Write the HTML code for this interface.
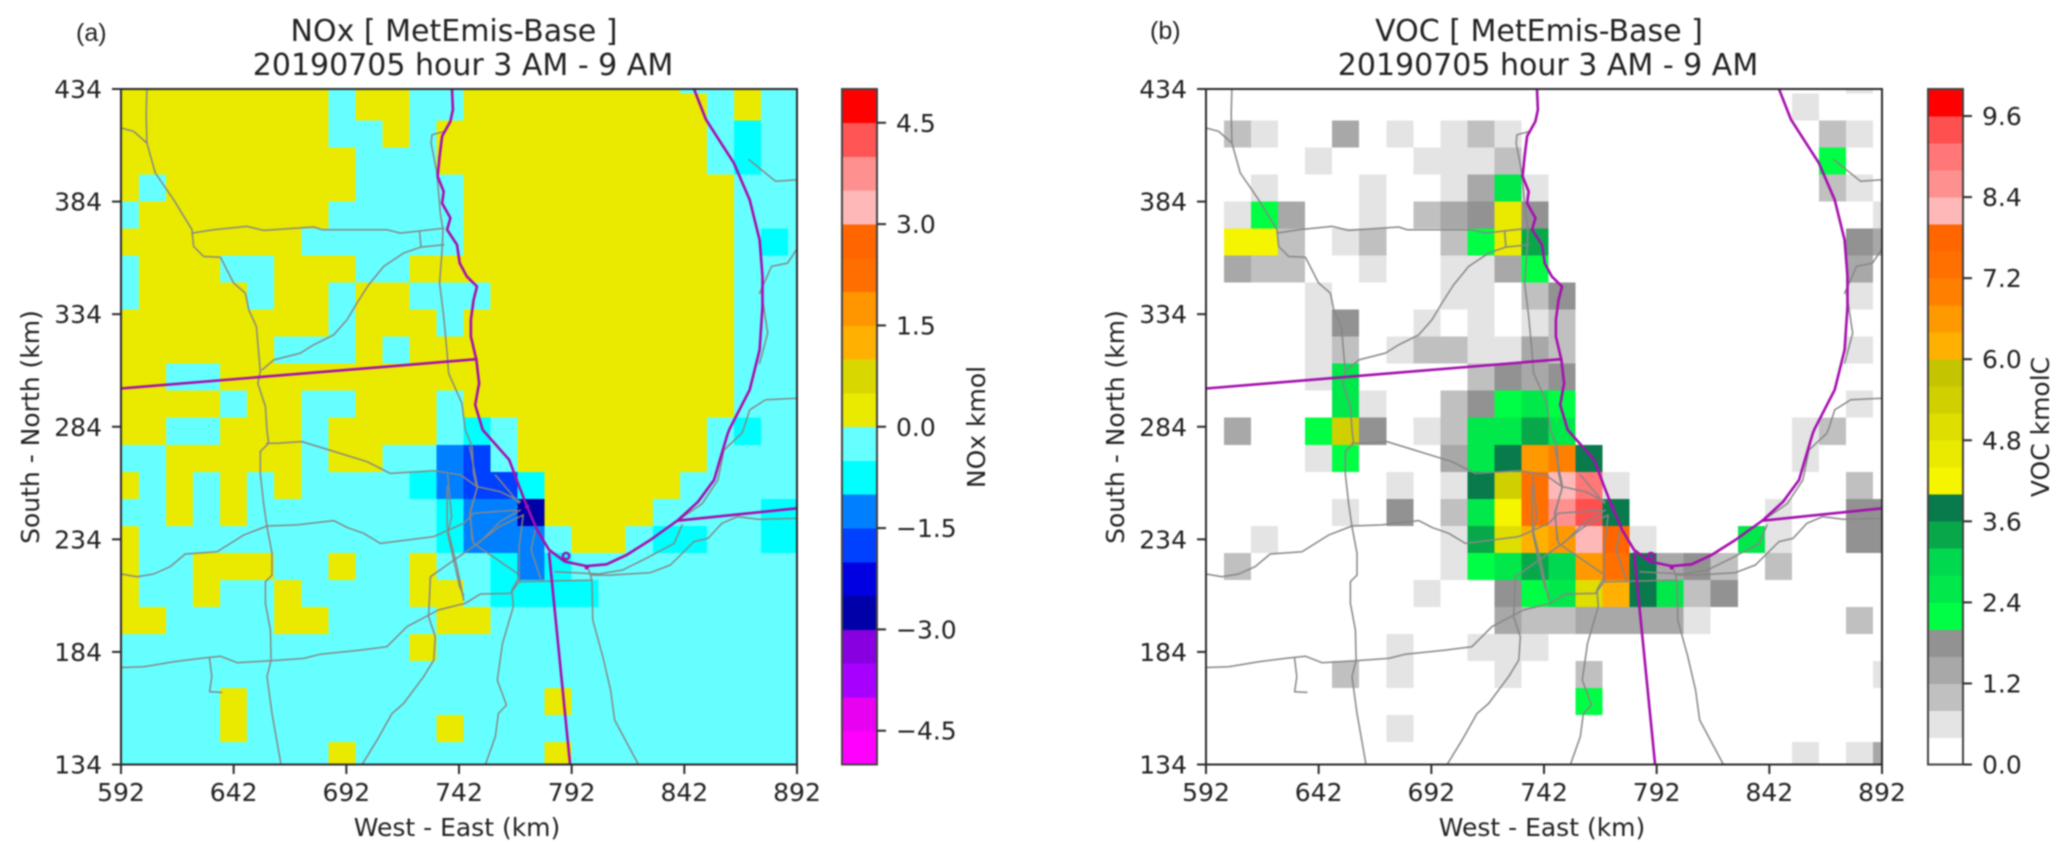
<!DOCTYPE html>
<html lang="en">
<head>
<meta charset="utf-8">
<title>NOx and VOC MetEmis-Base</title>
<style>
html,body{margin:0;padding:0;background:#fff;width:2067px;height:860px;overflow:hidden}
svg{display:block;filter:blur(.8px)}
text{font-family:"DejaVu Sans","Liberation Sans",sans-serif;fill:#222}
.tick{font-size:25px}
.lab{font-size:25px}
.ttl{font-size:30px;text-anchor:middle}
.pl{font-family:"Liberation Sans",sans-serif;font-size:25px}
</style>
</head>
<body>
<svg id="fig" xmlns="http://www.w3.org/2000/svg" width="2067" height="860" viewBox="0 0 2067 860">
<defs>
<clipPath id="clip-a"><rect x="121" y="89" width="676" height="675.5"/></clipPath>
<clipPath id="clip-b"><rect x="1206" y="89" width="676" height="675.5"/></clipPath>
</defs>
<g id="panel-a"></g>
<g id="panel-b"></g>
<text class="pl" x="76" y="41">(a)</text>
<text class="ttl" x="454" y="41">NOx [ MetEmis-Base ]</text>
<text class="ttl" x="463" y="75">20190705 hour 3 AM - 9 AM</text>
<text class="lab" x="457" y="836" text-anchor="middle">West - East (km)</text>
<text class="lab" transform="translate(39,427) rotate(-90)" text-anchor="middle">South - North (km)</text>
<text class="lab" transform="translate(985,427) rotate(-90)" text-anchor="middle">NOx kmol</text>
<text class="pl" x="1150" y="39">(b)</text>
<text class="ttl" x="1539" y="41">VOC [ MetEmis-Base ]</text>
<text class="ttl" x="1548" y="75">20190705 hour 3 AM - 9 AM</text>
<text class="lab" x="1542" y="836" text-anchor="middle">West - East (km)</text>
<text class="lab" transform="translate(1124,427) rotate(-90)" text-anchor="middle">South - North (km)</text>
<text class="lab" transform="translate(2049,427) rotate(-90)" text-anchor="middle">VOC kmolC</text>
</svg>
<script>
const xTicks = [592, 642, 692, 742, 792, 842, 892];
const yTicks = [134, 184, 234, 284, 334, 384, 434];
const noxBarTicks = [-4.5, -3.0, -1.5, 0.0, 1.5, 3.0, 4.5];
const vocBarTicks = [0.0, 1.2, 2.4, 3.6, 4.8, 6.0, 7.2, 8.4, 9.6];
const noxLevels = [-5,-4.5,-4,-3.5,-3,-2.5,-2,-1.5,-1,-.5,0,.5,1,1.5,2,2.5,3,3.5,4,4.5,5];
const noxColors = ['#ff00ff','#e800f0','#a800ff','#8800e0','#0000a8','#0000e0','#0040ff','#0080ff','#00ffff','#66ffff','#eaea00','#d8d800','#ffb000','#ff9600','#ff6e00','#ff6600','#ffb8b8','#ff9090','#ff5555','#ff0000'];
const vocLevels = [0,.4,.8,1.2,1.6,2,2.4,2.8,3.2,3.6,4,4.4,4.8,5.2,5.6,6,6.4,6.8,7.2,7.6,8,8.4,8.8,9.2,9.6,10];
const vocColors = ['#ffffff','#e4e4e4','#c0c0c0','#a8a8a8','#929292','#00ff44','#00e84a','#00d94f','#08a84a','#087a4c','#f5f500','#eaea00','#dede00','#d0d000','#c4c400','#ffb000','#ff9900','#ff8000','#ff7000','#ff6600','#ffb8b8','#ff9090','#ff7777','#ff5050','#ff0000'];

/* Grid cell edges in km: columns start at 588, rows start at 444 at the top, 12 km each */
const cellKm = 12;
const gridWest = 588;
const gridNorth = 444;

const noxRows = [
[.25,.25,.25,.25,.25,.25,.25,.25,-.25,.25,.25,-.25,-.25,.25,.25,.25,.25,.25,.25,.25,.25,-.25,-.25,.25,-.25,-.25],
[.25,.25,.25,.25,.25,.25,.25,.25,-.25,.25,.25,-.25,-.25,.25,.25,.25,.25,.25,.25,.25,.25,.25,-.25,.25,-.25,-.25],
[.25,.25,.25,.25,.25,.25,.25,.25,-.25,-.25,.25,-.25,.25,.25,.25,.25,.25,.25,.25,.25,.25,.25,-.25,-.75,-.25,-.25],
[.25,.25,.25,.25,.25,.25,.25,.25,.25,-.25,-.25,-.25,.25,.25,.25,.25,.25,.25,.25,.25,.25,.25,-.25,-.75,-.25,-.25],
[.25,-.25,.25,.25,.25,.25,.25,.25,.25,-.25,-.25,-.25,-.25,.25,.25,.25,.25,.25,.25,.25,.25,.25,.25,-.25,-.25,-.25],
[-.25,.25,.25,.25,.25,.25,.25,.25,-.25,-.25,-.25,-.25,-.25,.25,.25,.25,.25,.25,.25,.25,.25,.25,.25,-.25,-.25,-.25],
[.25,.25,.25,.25,.25,.25,.25,-.25,-.25,-.25,-.25,-.25,-.25,.25,.25,.25,.25,.25,.25,.25,.25,.25,.25,-.25,-.75,-.25],
[-.25,.25,.25,.25,-.25,-.25,.25,.25,.25,-.25,-.25,.25,.25,.25,.25,.25,.25,.25,.25,.25,.25,.25,.25,-.25,-.25,-.25],
[-.25,.25,.25,.25,.25,-.25,.25,.25,-.25,.25,.25,-.25,-.25,-.25,.25,.25,.25,.25,.25,.25,.25,.25,.25,-.25,-.25,-.25],
[.25,.25,.25,.25,.25,.25,.25,.25,-.25,.25,.25,.25,-.25,.25,.25,.25,.25,.25,.25,.25,.25,.25,.25,-.25,-.25,-.25],
[.25,.25,.25,.25,.25,.25,-.25,-.25,-.25,.25,-.25,.25,.25,.25,.25,.25,.25,.25,.25,.25,.25,.25,.25,-.25,-.25,-.25],
[.25,.25,-.25,-.25,.25,.25,.25,.25,.25,.25,.25,.25,.25,.25,.25,.25,.25,.25,.25,.25,.25,.25,.25,-.25,-.25,-.25],
[.25,.25,.25,.25,-.25,.25,.25,-.25,-.25,.25,.25,.25,-.25,.25,.25,.25,.25,.25,.25,.25,.25,.25,.25,-.25,-.25,-.25],
[.25,.25,-.25,-.25,.25,.25,.25,-.25,.25,.25,.25,.25,-.25,-.75,-.25,.25,.25,.25,.25,.25,.25,.25,-.25,-.75,-.25,-.25],
[-.25,-.25,.25,.25,.25,.25,.25,-.25,.25,.25,-.25,-.25,-1.25,-1.75,-.25,.25,.25,.25,.25,.25,.25,.25,-.25,-.25,-.25,-.25],
[.25,-.25,.25,-.25,.25,-.25,.25,-.25,-.25,-.25,-.25,-.75,-1.25,-1.75,-1.75,-.75,.25,.25,.25,.25,.25,-.25,-.25,-.25,-.25,-.25],
[-.25,-.25,.25,-.25,.25,-.25,-.25,-.25,-.25,-.25,-.25,-.25,-.75,-1.25,-1.25,-2.75,.25,.25,.25,.25,-.25,-.25,-.25,-.25,-.75,-.75],
[.25,-.25,-.25,-.25,-.25,-.25,-.25,-.25,-.25,-.25,-.25,-.25,-.75,-1.25,-1.25,-1.25,-.25,.25,.25,-.25,-.75,-.75,-.25,-.25,-.75,-.75],
[.25,-.25,-.25,.25,.25,.25,-.25,-.25,.25,-.25,-.25,.25,-.25,-.25,-.75,-1.25,-.75,-.25,-.25,-.25,-.25,-.25,-.25,-.25,-.25,-.25],
[.25,-.25,-.25,.25,-.25,-.25,.25,-.25,-.25,-.25,-.25,.25,.25,-.25,-.75,-.75,-.75,-.75,-.25,-.25,-.25,-.25,-.25,-.25,-.25,-.25],
[.25,.25,-.25,-.25,-.25,-.25,.25,.25,-.25,-.25,-.25,-.25,.25,.25,-.25,-.25,-.25,-.25,-.25,-.25,-.25,-.25,-.25,-.25,-.25,-.25],
[-.25,-.25,-.25,-.25,-.25,-.25,-.25,-.25,-.25,-.25,-.25,.25,-.25,-.25,-.25,-.25,-.25,-.25,-.25,-.25,-.25,-.25,-.25,-.25,-.25,-.25],
[-.25,-.25,-.25,-.25,-.25,-.25,-.25,-.25,-.25,-.25,-.25,-.25,-.25,-.25,-.25,-.25,-.25,-.25,-.25,-.25,-.25,-.25,-.25,-.25,-.25,-.25],
[-.25,-.25,-.25,-.25,.25,-.25,-.25,-.25,-.25,-.25,-.25,-.25,-.25,-.25,-.25,-.25,.25,-.25,-.25,-.25,-.25,-.25,-.25,-.25,-.25,-.25],
[-.25,-.25,-.25,-.25,.25,-.25,-.25,-.25,-.25,-.25,-.25,-.25,.25,-.25,-.25,-.25,-.25,-.25,-.25,-.25,-.25,-.25,-.25,-.25,-.25,-.25],
[-.25,-.25,-.25,-.25,-.25,-.25,-.25,-.25,.25,-.25,-.25,-.25,-.25,-.25,-.25,-.25,.25,-.25,-.25,-.25,-.25,-.25,-.25,-.25,-.25,-.25]
];

const vocRows = [
[.2,.2,.2,.2,.2,.2,.2,.2,.2,.2,.2,.2,.2,.2,.2,.2,.2,.2,.2,.2,.2,.2,.2,.2,.6,.2],
[.2,.2,.2,.2,.2,.2,.2,.2,.2,.2,.2,.2,.2,.2,.2,.2,.2,.2,.2,.2,.2,.2,.6,.2,.2,.2],
[.2,1,.6,.2,.2,1.4,.2,.6,.2,.6,1,.6,.2,.2,.2,.2,.2,.2,.2,.2,.2,.2,.2,1,.6,.2],
[.2,.2,.2,.2,.6,.2,.2,.2,.6,.6,.6,1,.2,.2,.2,.2,.2,.2,.2,.2,.2,.2,.2,2.2,.2,.2],
[.2,.2,.6,.2,.2,.2,.6,.2,.2,.6,1.4,2.6,.6,.2,.2,.2,.2,.2,.2,.2,.2,.2,.2,1,.6,.2],
[.2,.6,2.2,1.4,.2,.2,.6,.2,1,1.4,1.8,4.6,1.8,.2,.2,.2,.2,.2,.2,.2,.2,.2,.2,.2,.2,.6],
[.2,4.2,4.2,1,.2,.6,1,.2,.2,1,2.2,4.6,3.4,.2,.2,.2,.2,.2,.2,.2,.2,.2,.2,.2,1.8,1.4],
[.2,1.4,1,1,.2,.2,.6,.2,.2,.6,.6,1.4,2.2,.2,.2,.2,.2,.2,.2,.2,.2,.2,.2,.2,1.4,.2],
[.2,.2,.2,.2,.6,.2,.2,.2,.2,.6,.6,.2,1,1.8,.2,.2,.2,.2,.2,.2,.2,.2,.2,.2,.6,.2],
[.2,.2,.2,.2,.6,1.8,.2,.2,.6,.2,.6,.2,.6,1,.2,.2,.2,.2,.2,.2,.2,.2,.2,.2,.2,.2],
[.2,.2,.2,.2,.6,1,.2,.6,1,1,.6,.6,1.4,1,.2,.2,.2,.2,.2,.2,.2,.2,.2,.2,.6,.2],
[.2,.2,.2,.2,.6,2.6,.2,.2,.2,.2,1,1.8,1.4,1.8,.2,.2,.2,.2,.2,.2,.2,.2,.2,.2,.2,.2],
[.2,.2,.2,.2,.2,2.6,.6,.2,.2,1,1.8,2.2,2.6,2.2,.2,.2,.2,.2,.2,.2,.2,.2,.2,.2,.6,.2],
[.2,1.4,.2,.2,2.2,5.4,1.8,.2,.6,1,2.6,2.6,3.4,2.6,.2,.2,.2,.2,.2,.2,.2,.2,.6,1,.2,.2],
[.2,.2,.2,.2,.6,2.2,.2,.2,.2,1.4,2.6,3.8,6.6,7,3.8,.2,.2,.2,.2,.2,.2,.2,.6,.2,.2,.2],
[.2,.2,.2,.2,.2,.2,.2,.6,.2,.6,3.8,5.4,7.4,8.2,9,.6,.2,.2,.2,.2,.2,.2,.2,.2,1,.2],
[.2,.2,.2,.2,.2,.6,.2,1.8,.2,1,2.6,4.2,7.4,8.6,9.4,3.8,.2,.2,.2,.2,.2,.6,.2,.2,1.8,1.8],
[.2,.2,.6,.2,.2,.2,.2,.2,.2,.6,3.4,5,6.2,6.6,8.2,7.8,.6,.2,.2,.2,2.6,.6,.2,.2,1.8,1.8],
[.2,1,.2,.2,.2,.2,.2,.2,.2,.6,2.2,2.6,3.4,3,6.6,7.4,3.8,1.4,1.8,1,.2,1,.2,.2,.2,.2],
[.2,.2,.2,.2,.2,.2,.2,.2,.6,.2,.2,1.8,2.2,2.6,5,6.2,3.8,2.6,1,1.8,.2,.2,.2,.2,.2,.2],
[.2,.2,.2,.2,.2,.2,.2,.2,.2,.2,.2,1.4,1,1,1.4,1.4,1.4,1.4,.6,.2,.2,.2,.2,.2,1,.2],
[.2,.2,.2,.2,.2,.2,.2,.6,.2,.2,.6,.6,.6,.2,.2,.2,.2,.2,.2,.2,.2,.2,.2,.2,.2,.2],
[.2,.2,.2,.2,.2,1,.2,.6,.2,.2,.2,.6,.2,.2,1,.2,.2,.2,.2,.2,.2,.2,.2,.2,.2,.6],
[.2,.2,.2,.2,.2,.2,.2,.2,.2,.2,.2,.2,.2,.2,2.2,.2,.2,.2,.2,.2,.2,.2,.2,.2,.2,.2],
[.2,.2,.2,.2,.2,.2,.2,.6,.2,.2,.2,.2,.2,.2,.2,.2,.2,.2,.2,.2,.2,.2,.2,.2,.2,.2],
[.2,.2,.2,.2,.2,.2,.2,.2,.2,.2,.2,.2,.2,.2,.2,.2,.2,.2,.2,.2,.2,.2,.6,.2,.6,1.4]
];

/* Map overlay, west-east km / south-north km */
const roadTracks = [
[[603.5,434],[603.2,423],[603.5,410],[607.2,396.7],[615.4,384.8],[623.5,371.5],[624.2,364.1],[628.7,359.6],[636.1,359.3],[642,347.8],[647.2,343.3],[648.7,335.9],[652.1,328.5],[653.1,316.7],[653.8,308.5],[652.7,303.3],[656.1,293],[656.8,282.6],[657.5,276.7],[653.8,273],[653.8,263.3],[655.3,250],[656.8,239.6],[659,227.8],[659,218.1],[656.1,215.2],[656.1,205.6],[658.3,193.7],[658.6,180.4],[656.8,173],[659,156.7],[663,134]],
[[592,416.7],[597.6,415.2],[603.5,410]],
[[623.5,370],[633.1,371.5],[647.9,373],[655.3,371.2],[677.5,372.7],[681.2,371.5],[710,371.5],[716,370],[735.2,372.2]],
[[724.5,370.7],[725.1,364.1]],
[[735.2,364.8],[725.1,363.8],[717.4,361.1],[708.6,355.2],[701.9,347],[696.7,338.9],[692.3,331.5],[686.4,324.8],[677.5,320.4],[671.6,316.7],[659.8,313.7],[654.6,309.3]],
[[735.9,415.2],[730,413.7],[729.6,410],[732.2,396.7],[733.7,378.9],[734.9,371.5],[734.5,362.6],[733.4,347.8],[735.2,333],[736.7,316.7],[737.4,307.8],[743.3,294.4],[744.8,282.6],[747.8,275.2],[748.5,263.3],[750,256.7],[747,245.6],[747.8,233.7]],
[[656.8,276.7],[661.2,276.7],[672.3,277.4],[684.2,273.7],[701.2,268.5],[711.5,263.3],[730.8,264.5],[742.6,262.6],[750,257.4],[760.3,255.2],[769.2,250.7]],
[[592,218.6],[599.1,217.4],[606.5,218.6],[613.9,221.9],[620.5,227.5],[634.6,228.5],[646.4,235.9],[656.8,239.9],[670.1,240.4],[686.4,242.3],[692.3,239.3],[699.7,236.7],[707.1,232.2],[730.8,235.2],[744.1,241.1],[748.5,245.6],[767.7,247]],
[[592,177.1],[602.1,177.4],[615.4,179.6],[627.2,181.1],[636.1,182.1],[643.5,179.2],[658.3,180.1],[673.1,181.1],[680.5,183],[698.2,184.8],[710,186.3],[718.9,195.2],[732.8,202.6],[744.8,205.6],[751.5,209.7],[764.8,210],[769.2,215.9]],
[[631.3,181.1],[632.3,173],[631.3,166.3],[636.8,166]],
[[699,134],[705.6,144.8],[712.3,156.7],[717.4,161.1],[726.3,173],[730.8,180.4],[731.5,190.7],[728.5,199.6],[729.3,217.4],[744.1,227.8],[751.5,233],[760.3,241.9],[769.2,247]],
[[736.7,257.4],[736.7,239.6],[741.1,221.9],[744.1,207]],
[[753.7,134],[758.1,146.3],[759.5,156.7],[763.1,160.4],[759,171.5],[761.3,187.8],[766.1,204.1],[765.5,211.5],[768.7,217.4]],
[[821.6,134],[811.1,153.7],[809.3,167],[805.8,181.9],[801.4,198.1],[801,215.9],[799.6,220.4]],
[[768.7,215.2],[801,215.9]],
[[801,218.1],[809.3,218.1],[826.9,219.2],[835.8,222.6],[846.3,233],[852.5,234.4],[858.7,241.1],[865.7,244.1],[874.6,242.9],[892.2,243.3]],
[[784.6,219.6],[804,218.6],[814.6,220.4],[825.2,225.6],[837.5,232.2],[841,240.4]],
[[840.2,243.1],[849.9,249.8],[856.9,260.4],[859.6,273.7],[867.5,281.1],[868.4,283.3],[871,291.5],[878.1,296],[892.2,296.7]],
[[875.4,312.2],[879,325.6],[876.3,343.3]],
[[875.4,343.3],[880.7,355.2],[887.8,356.7],[892.2,363.3]],
[[870.7,402.6],[882.5,393],[892.2,393.7]],
[[746.7,275.2],[750.2,257.4],[746.7,245.6],[748.4,232.2],[758.1,225.6],[767.8,218.9]],
[[750.2,232.2],[759.9,239.6],[770.5,244.8]],
[[737,262.6],[738.7,244],[737,236.6],[742.3,212.9],[744,209.2]],
[[758.1,262.6],[768.7,250]],
[[770.5,244.8],[768.7,230.7],[768.7,215.9]],
[[775.8,238.1],[774,229.3],[778.4,216]]
];
const boundaryTracks = [
[[738.9,434],[739.3,424.8],[738.2,419.6],[734.5,413],[733.4,404.1],[732.5,395.2],[735.2,388.5],[734.5,383.3],[738.2,376.7],[736.7,371.5],[741.1,364.8],[742.3,356.7],[745.5,350.7],[750,346.3],[748.5,340.4],[747.3,331.5],[747.3,324.1],[749.7,313.7],[750.9,303.3],[749.2,293.7],[752.5,282.6],[764.3,269.3],[768.7,257.4],[772.2,248.5],[776.7,238.1],[782,229.3],[789,224.1],[798.7,222.1],[807.5,222.9],[816.3,227],[826.9,233.7],[839.3,242.6],[848.1,250.7],[855.2,260.4],[857.8,269.3],[861.3,281.1],[862.2,283.3],[871,300.4],[875.4,318.1],[876.7,337.4],[876.7,350.7],[875.4,367],[871,384.8],[864,401.1],[851.6,420.4],[846.3,434]],
[[592,301],[749.7,314]],
[[782,227.8],[791.3,134]],
[[839.3,242.3],[892.2,247.8]]
];
const portLoop = [789.5, 226.6];
const shoreDots = [[772.2,248.5],[798.7,221.5]];

const SVGNS = 'http://www.w3.org/2000/svg';
const kmToPxX = 676 / 300;
const kmToPxY = 675.5 / 300;
function axisX(left, km) { return left + (km - 592) * kmToPxX; }
function axisY(km) { return 764.5 - (km - 134) * kmToPxY; }
function barY(lo, hi, v) { return 764.5 - (v - lo) / (hi - lo) * 675.5; }
function shape(tag, props, parent) {
  const el = document.createElementNS(SVGNS, tag);
  for (const k in props) el.setAttribute(k, props[k]);
  parent.appendChild(el);
  return el;
}
function levelColor(v, levels, colors) {
  for (let i = 0; i < colors.length; i++) {
    if (v >= levels[i] && v < levels[i + 1]) return colors[i];
  }
  return v < levels[0] ? colors[0] : colors[colors.length - 1];
}
function tickText(v) {
  return (v < 0 ? '\u2212' : '') + Math.abs(v).toFixed(1);
}
function drawPanel(id, left, clipId, rows, levels, colors, barLeft, barTicks) {
  const root = document.getElementById(id);

  const heat = shape('g', { 'clip-path': 'url(#' + clipId + ')', 'shape-rendering': 'crispEdges' }, root);
  
  
  rows.forEach(function (row, r) {
    row.forEach(function (v, c) {
      const x0 = axisX(left, gridWest + c * cellKm);
      const x1 = axisX(left, gridWest + (c + 1) * cellKm);
      const y0 = axisY(gridNorth - r * cellKm);
      const y1 = axisY(gridNorth - (r + 1) * cellKm);
      const cell = shape('rect', { x: x0, y: y0, width: x1 - x0 + .4, height: y1 - y0 + .4, fill: levelColor(v, levels, colors) }, heat);
      
      
    });
  });

  const map = shape('g', { 'clip-path': 'url(#' + clipId + ')', fill: 'none', 'stroke-linejoin': 'round', 'stroke-linecap': 'round' }, root);
  
  
  roadTracks.forEach(function (track) {
    const pts = track.map(function (p) { return axisX(left, p[0]).toFixed(1) + ',' + axisY(p[1]).toFixed(1); }).join(' ');
    const road = shape('polyline', { points: pts, stroke: '#868686', 'stroke-width': 1.5 }, map);
    
    
  });
  boundaryTracks.forEach(function (track) {
    const pts = track.map(function (p) { return axisX(left, p[0]).toFixed(1) + ',' + axisY(p[1]).toFixed(1); }).join(' ');
    const line = shape('polyline', { points: pts, stroke: '#a50fae', 'stroke-width': 2.6 }, map);
    
    
  });
  const loop = shape('circle', { cx: axisX(left, portLoop[0]), cy: axisY(portLoop[1]), r: 3.2, stroke: '#a50fae', 'stroke-width': 2.4 }, map);
  
  
  shoreDots.forEach(function (p) {
    const dot = shape('circle', { cx: axisX(left, p[0]), cy: axisY(p[1]), r: 2.2, fill: '#a50fae' }, map);
    
    
  });

  const frame = shape('rect', { x: left, y: 89, width: 676, height: 675.5, fill: 'none', stroke: '#2b2b2b', 'stroke-width': 2 }, root);
  
  

  xTicks.forEach(function (v) {
    const x = axisX(left, v);
    const mark = shape('line', { x1: x, x2: x, y1: 764.5, y2: 774, stroke: '#2b2b2b', 'stroke-width': 2 }, root);
    
    
    const label = shape('text', { x: x, y: 801, 'text-anchor': 'middle', class: 'tick' }, root);
    label.textContent = String(v);
    
    
  });
  yTicks.forEach(function (v) {
    const y = axisY(v);
    const mark = shape('line', { x1: left - 9, x2: left, y1: y, y2: y, stroke: '#2b2b2b', 'stroke-width': 2 }, root);
    
    
    const label = shape('text', { x: left - 19, y: y + 9, 'text-anchor': 'end', class: 'tick' }, root);
    label.textContent = String(v);
    
    
  });

  const lo = levels[0];
  const hi = levels[levels.length - 1];
  const bar = shape('g', { 'shape-rendering': 'crispEdges' }, root);
  
  
  colors.forEach(function (col, i) {
    const yTop = barY(lo, hi, levels[i + 1]);
    const yBot = barY(lo, hi, levels[i]);
    const band = shape('rect', { x: barLeft, y: yTop, width: 35, height: yBot - yTop + .4, fill: col }, bar);
    
    
  });
  const outline = shape('rect', { x: barLeft, y: 89, width: 35, height: 675.5, fill: 'none', stroke: '#444', 'stroke-width': 2 }, root);
  
  
  barTicks.forEach(function (v) {
    const y = barY(lo, hi, v);
    const mark = shape('line', { x1: barLeft + 35, x2: barLeft + 44, y1: y, y2: y, stroke: '#2b2b2b', 'stroke-width': 2 }, root);
    
    
    const label = shape('text', { x: barLeft + 54, y: y + 9, class: 'tick' }, root);
    label.textContent = tickText(v);
    
    
  });
}
drawPanel('panel-a', 121, 'clip-a', noxRows, noxLevels, noxColors, 842, noxBarTicks);
drawPanel('panel-b', 1206, 'clip-b', vocRows, vocLevels, vocColors, 1928, vocBarTicks);
</script>
</body>
</html>
